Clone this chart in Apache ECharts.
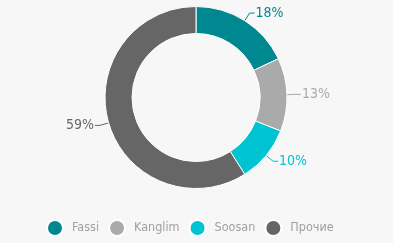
<!DOCTYPE html>
<html><head><meta charset="utf-8">
<script src="https://cdn.jsdelivr.net/npm/echarts@6/dist/echarts.min.js"></script>
<style>html,body{margin:0;padding:0;background:#f7f7f7}#c{width:393px;height:243px}</style>
</head><body><div id="c"></div>
<script>
const categories = ['Fassi', 'Kanglim', 'Soosan', 'Прочие'];
const values = [18, 13, 10, 59];
const colors = ['#008891', '#aaaaaa', '#00c3d2', '#666666'];
const font = '"DejaVu Sans Condensed", "Liberation Sans Narrow", sans-serif';
const chart = echarts.init(document.getElementById('c'));
chart.setOption({
  backgroundColor: '#f7f7f7',
  animation: false,
  color: colors,
  legend: {
    bottom: 1, left: 41,
    icon: 'circle', itemWidth: 16, itemHeight: 16, itemGap: 9,
    textStyle: { color: '#a0a0a0', fontSize: 12.5, fontFamily: font, padding: [0, 0, 0, 4] },
    data: categories
  },
  series: [{
    type: 'pie',
    center: [196, 97.5],
    radius: [64, 91],
    startAngle: 90,
    clockwise: true,
    itemStyle: { borderColor: '#fff', borderWidth: 1 },
    label: {
      formatter: '{c}%', fontSize: 14, fontFamily: font, color: 'inherit',
      distanceToLabelLine: 1
    },
    labelLine: { length: 9, length2: 5, lineStyle: { width: 1 } },
    data: categories.map((n, i) => ({ name: n, value: values[i], label: { color: colors[i] } }))
  }]
});
</script></body></html>
